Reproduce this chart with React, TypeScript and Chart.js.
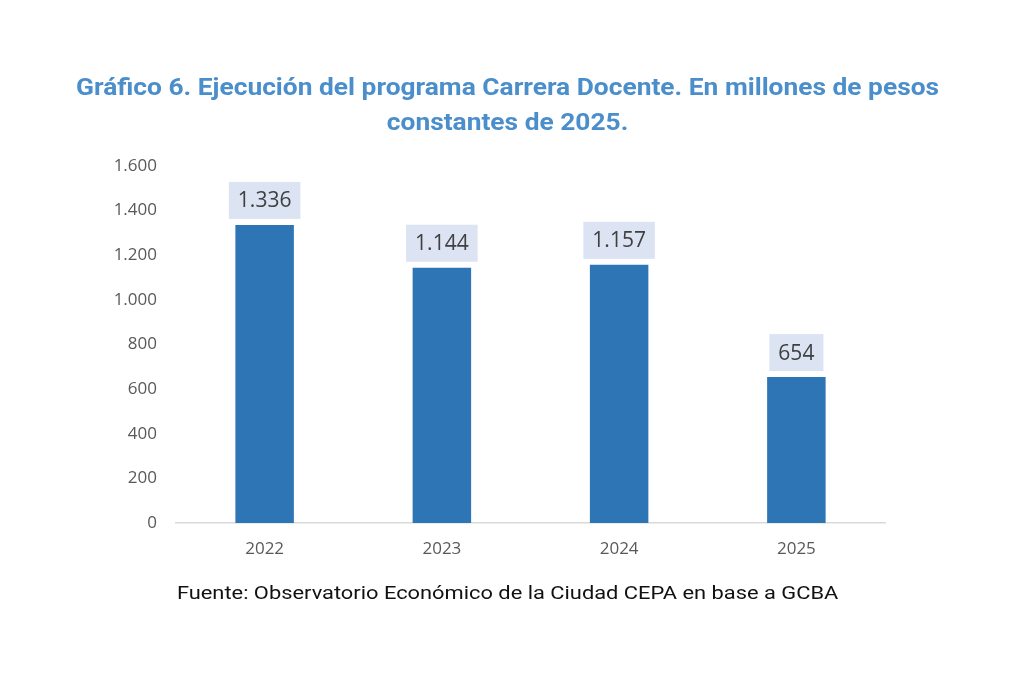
import { useEffect, useRef } from 'react'
import { Chart, registerables, Plugin } from 'chart.js'

Chart.register(...registerables)

const years = ['2022', '2023', '2024', '2025']
const ejecucion = [1336, 1144, 1157, 654]
const yMax = 1600
const yStep = 200

const fmt = (v: number) => String(Math.round(v)).replace(/\B(?=(\d{3})+(?!\d))/g, '.')

// label boxes above each bar
const boxLabels: Plugin<'bar'> = {
  id: 'boxLabels',
  afterDatasetsDraw(chart) {
    const { ctx } = chart
    const meta = chart.getDatasetMeta(0)
    ctx.save()
    ctx.font = '21px "Open Sans"'
    ctx.textAlign = 'center'
    ctx.textBaseline = 'middle'
    meta.data.forEach((bar, i) => {
      const { x, y } = bar.getProps(['x', 'y'], true) as { x: number; y: number }
      const txt = fmt(ejecucion[i])
      const w = ctx.measureText(txt).width + 18
      const h = 37
      const bottom = y - 6
      ctx.fillStyle = '#dce3f2'
      ctx.fillRect(x - w / 2, bottom - h, w, h)
      ctx.fillStyle = '#404040'
      ctx.fillText(txt, x, bottom - h / 2 + 1)
    })
    ctx.restore()
  },
}

function BarChart() {
  const ref = useRef<HTMLCanvasElement>(null)
  const inst = useRef<Chart | null>(null)

  useEffect(() => {
    if (!ref.current) return
    if (inst.current) inst.current.destroy()
    inst.current = new Chart(ref.current, {
      type: 'bar',
      data: {
        labels: years,
        datasets: [{
          data: ejecucion,
          backgroundColor: '#2e75b6',
          categoryPercentage: 1,
          barPercentage: 0.33,
        }],
      },
      options: {
        animation: false,
        responsive: false,
        devicePixelRatio: 1,
        layout: { padding: { top: 166, left: 100, right: 139, bottom: 121 } },
        plugins: { legend: { display: false }, tooltip: { enabled: false } },
        scales: {
          x: {
            grid: { display: false, drawTicks: false },
            border: { display: true, color: '#d9d9d9', width: 1.5 },
            ticks: { color: '#595959', font: { family: 'Open Sans', size: 17 }, padding: 16 },
            afterFit: (axis) => { axis.height = 40 },
          },
          y: {
            min: 0,
            max: yMax,
            grid: { display: false, drawTicks: false },
            border: { display: false },
            ticks: {
              stepSize: yStep,
              color: '#595959',
              font: { family: 'Open Sans', size: 17 },
              padding: 19,
              callback: (v) => fmt(Number(v)),
            },
            afterFit: (axis) => { axis.width = 76 },
          },
        },
      },
      plugins: [boxLabels],
    })
    return () => inst.current?.destroy()
  }, [])

  return <canvas ref={ref} width={1024} height={684} style={{ position: 'absolute', left: 0, top: 0 }} />
}

export default function App() {
  return (
    <div style={{ position: 'fixed', left: 0, top: 0, width: 1024, height: 684, background: '#fff', overflow: 'hidden' }}>
      <BarChart />
      <div style={{
        position: 'absolute', left: 0, top: 70, width: 1015, textAlign: 'center',
        fontFamily: 'Roboto', fontWeight: 700, fontSize: 23, lineHeight: '35px', color: '#4a8ecb',
        transform: 'scaleX(1.145)', transformOrigin: '507px 0',
      }}>
        Gráfico 6. Ejecución del programa Carrera Docente. En millones de pesos<br />constantes de 2025.
      </div>
      <div style={{
        position: 'absolute', left: 0, top: 581, width: 1015, textAlign: 'center',
        fontFamily: 'Roboto', fontSize: 19, color: '#111',
        transform: 'scaleX(1.15)', transformOrigin: '507px 0',
      }}>
        Fuente: Observatorio Económico de la Ciudad CEPA en base a GCBA
      </div>
    </div>
  )
}
